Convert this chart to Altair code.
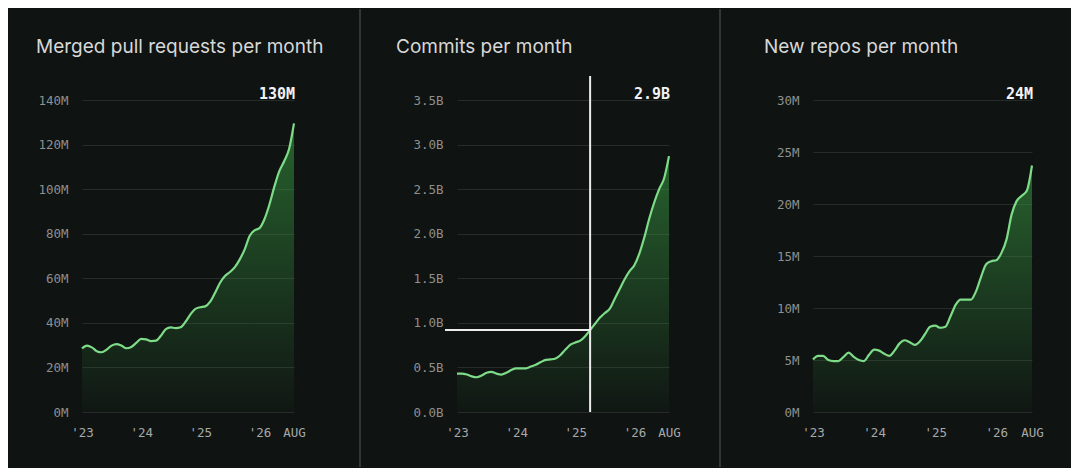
import altair as alt
import pandas as pd

# ---------------- data ----------------
months = [f"{y}-{m:02d}" for y in range(2023, 2027) for m in range(1, 13)][:44]  # Jan 2023 .. Aug 2026

pr_values = [28.5, 29.8, 29.0, 27.3, 26.8, 28.0, 29.8, 30.5, 29.8, 28.6, 29.2, 31.0,
             32.8, 32.6, 31.8, 32.0, 34.2, 37.2, 38.0, 37.6, 38.0, 40.5, 43.8, 46.3,
             47.0, 47.4, 49.5, 53.5, 58.0, 61.0, 62.8, 65.0, 68.5, 73.0, 79.0, 81.5,
             82.5, 86.5, 93.0, 101.0, 108.0, 112.5, 118.0, 129.5]

commit_values = [0.43, 0.43, 0.42, 0.40, 0.39, 0.41, 0.44, 0.45, 0.43, 0.42, 0.44, 0.47,
                 0.49, 0.49, 0.49, 0.51, 0.53, 0.56, 0.585, 0.59, 0.60, 0.64, 0.70, 0.755,
                 0.78, 0.80, 0.85, 0.92, 0.99, 1.06, 1.11, 1.16, 1.27, 1.38, 1.49, 1.58,
                 1.65, 1.78, 1.96, 2.17, 2.35, 2.50, 2.62, 2.87]

repo_values = [5.05, 5.4, 5.4, 5.0, 4.9, 4.9, 5.3, 5.7, 5.3, 5.0, 4.9, 5.5,
               6.0, 5.9, 5.6, 5.4, 5.9, 6.6, 6.9, 6.7, 6.45, 6.8, 7.5, 8.2,
               8.3, 8.1, 8.2, 9.2, 10.3, 10.8, 10.8, 10.8, 11.6, 13.0, 14.2, 14.5,
               14.6, 15.3, 16.6, 19.0, 20.3, 20.8, 21.3, 23.7]

titles = ["Merged pull requests per month", "Commits per month", "New repos per month"]
callouts = ["130M", "2.9B", "24M"]
y_ticks_pr = [0, 20, 40, 60, 80, 100, 120, 140]
y_ticks_commits = [0, 0.5, 1.0, 1.5, 2.0, 2.5, 3.0, 3.5]
y_ticks_repos = [0, 5, 10, 15, 20, 25, 30]
x_tick_idx = [0, 12, 24, 36, 43]
crosshair_month = "2025-04"

# ---------------- style ----------------
BG = "#0f1312"
LINE = "#7edc89"
GRID = "#272b2a"
SEP = "#3f4342"
MONO = "DejaVu Sans Mono"
H = 312

grad = alt.Gradient(
    gradient="linear",
    stops=[alt.GradientStop(color="rgba(56,150,64,0.03)", offset=0),
           alt.GradientStop(color="rgba(56,150,64,0.60)", offset=1)],
    x1=1, x2=1, y1=1, y2=0,
)


def make_panel(values, title, callout, ticks, ylabel_expr, width, title_dx,
               bg_rect=False, crosshair=None):
    df = pd.DataFrame({"month": months, "i": list(range(len(values))), "v": values})
    xenc = alt.X(
        "i:Q",
        scale=alt.Scale(domain=[0, len(values) - 1], nice=False, zero=False),
        axis=alt.Axis(values=x_tick_idx, grid=False, domain=False, ticks=False,
                      labelFlush=False, labelOverlap=False, labelPadding=14,
                      labelFont=MONO, labelFontSize=12.5, labelColor="#a6a9a8",
                      labelExpr="datum.value == 43 ? 'AUG' : \"'\" + (23 + datum.value / 12)",
                      title=None),
    )
    yenc = alt.Y(
        "v:Q",
        scale=alt.Scale(domain=[ticks[0], ticks[-1]], nice=False),
        axis=alt.Axis(values=ticks, grid=True, gridColor=GRID, gridWidth=1,
                      domain=False, ticks=False, labelPadding=14,
                      labelFont=MONO, labelFontSize=12.5, labelColor="#8d908f",
                      labelExpr=ylabel_expr, title=None),
    )
    base = alt.Chart(df)
    layers = []
    if bg_rect:
        layers.append(
            alt.Chart(pd.DataFrame({"a": [0]})).mark_rect(opacity=0).encode(
                x=alt.value(-74), x2=alt.value(989), y=alt.value(-91), y2=alt.value(366))
        )
    layers.append(base.mark_area(interpolate="monotone", color=grad).encode(x=xenc, y=yenc))
    layers.append(base.mark_line(interpolate="monotone", color=LINE, strokeWidth=2.2).encode(x=xenc, y=yenc))
    if crosshair is not None:
        cdf = df[df["month"] == crosshair]
        layers.append(alt.Chart(cdf).mark_rule(color="#ececec", strokeWidth=2).encode(
            x=xenc, y=alt.value(-24), y2=alt.value(H)))
        layers.append(alt.Chart(cdf).mark_rule(color="#ececec", strokeWidth=2).encode(
            x=xenc, x2=alt.value(-12), y=yenc))
    layers.append(alt.Chart(pd.DataFrame({"t": [title]})).mark_text(
        align="left", baseline="alphabetic", font="Inter", fontSize=19, color="#d6d8d7"
    ).encode(text="t:N", x=alt.value(title_dx), y=alt.value(-47)))
    layers.append(alt.Chart(pd.DataFrame({"t": [callout]})).mark_text(
        align="right", baseline="alphabetic", font=MONO, fontSize=15, fontWeight="bold",
        color="#f2f2f2"
    ).encode(text="t:N", x=alt.value(width + 1), y=alt.value(-1)))
    return alt.layer(*layers).properties(width=width, height=H)


def spacer(width, sep_x):
    return alt.Chart(pd.DataFrame({"a": [0]})).mark_rule(color=SEP, strokeWidth=1.5).encode(
        x=alt.value(sep_x), y=alt.value(-91), y2=alt.value(367)
    ).properties(width=width, height=H)


p1 = make_panel(pr_values, titles[0], callouts[0], y_ticks_pr,
                "datum.value + 'M'", 212, -46, bg_rect=True)
p2 = make_panel(commit_values, titles[1], callouts[1], y_ticks_commits,
                "format(datum.value, '.1f') + 'B'", 212, -61, crosshair=crosshair_month)
p3 = make_panel(repo_values, titles[2], callouts[2], y_ticks_repos,
                "datum.value + 'M'", 219, -49)

chart = alt.hconcat(
    p1, spacer(163, 66), p2, spacer(144, 51), p3, spacing=0, bounds="flush"
).properties(
    padding=0, background=BG
).configure_view(stroke=None)

chart.save("out.html", embed_options={"renderer": "svg", "actions": False})
